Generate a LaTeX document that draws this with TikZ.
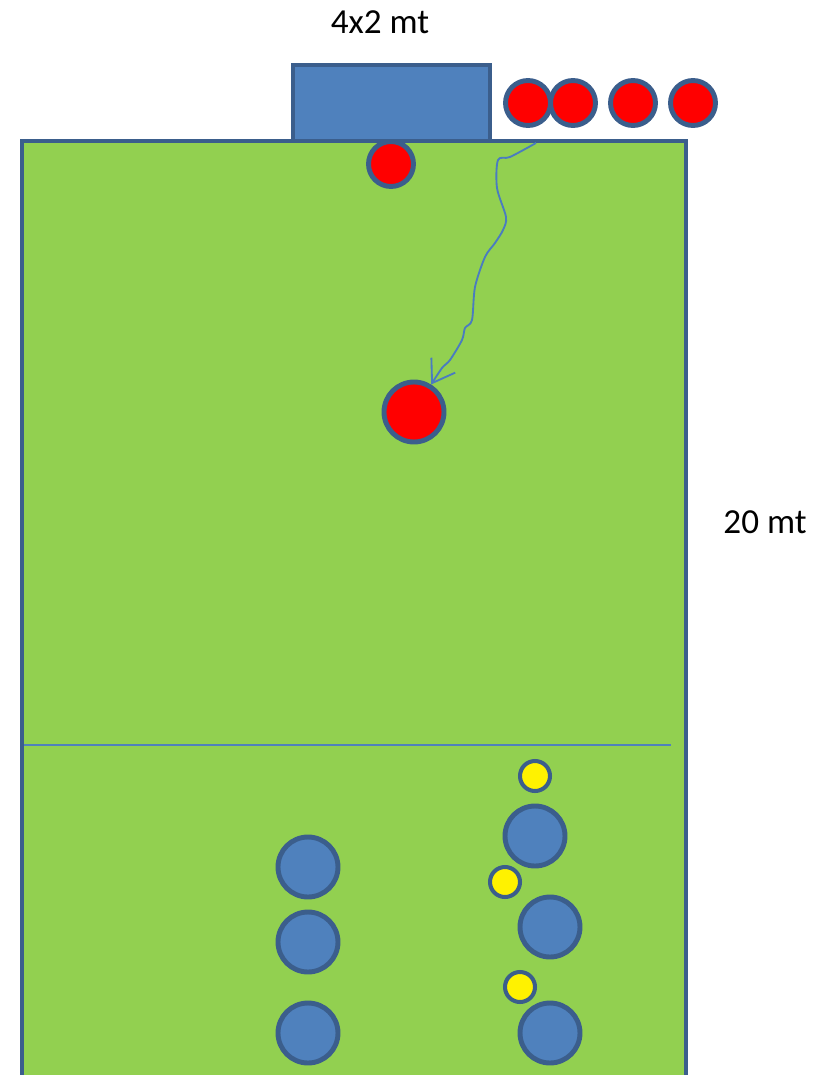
\documentclass[tikz,border=0pt]{standalone}
\usepackage{fontspec}
\setmainfont{Carlito}
\usetikzlibrary{arrows.meta}
\definecolor{pitch}{HTML}{92D050}
\definecolor{rim}{HTML}{3B5E8C}
\definecolor{steel}{HTML}{4F81BD}
\definecolor{chalk}{HTML}{4A7CC0}

\begin{document}
\begin{tikzpicture}[
    x=0.02cm, y=-0.02cm,
    ball/.style={circle, draw=rim, line width=2.8pt, inner sep=0pt},
    redball/.style={ball, fill=red, minimum size=0.9cm},
    bigred/.style={ball, fill=red, minimum size=1.2cm},
    blueball/.style={ball, fill=steel, minimum size=1.2cm},
    cone/.style={ball, fill=yellow, line width=2.3pt, minimum size=0.6cm},
    label/.style={font=\fontsize{20}{24}\selectfont, inner sep=0pt},
    run/.style={chalk, line width=1.05pt, line join=round,
      -{Straight Barb[length=12pt, width=16pt, line width=1.05pt]}}
  ]
    \clip (0,0) rectangle (815,1075);
    % pitch and goal
    \draw[rim, fill=pitch, line width=2.6pt] (22,141) rectangle (686,1100);
    \draw[steel, line width=1.1pt] (24,745) -- (671,745);
    \draw[rim, fill=steel, line width=2.6pt] (293,65) rectangle (490,141);
    \node[label] (goalsize) at (380,22) {4x2 mt};
    \node[label] (length) at (765,522) {20 mt};
    % queue of attackers
    \foreach \x [count=\i] in {528,573,633,693}
      \node[redball] (q\i) at (\x,103) {};
    \node[redball] (keeper) at (391,164) {};
    \node[bigred] (kick) at (414,412) {};
    % run of the ball
    \coordinate (pstart) at (536,143);
    \draw[run] plot[smooth, tension=0.5] coordinates {(pstart) (510,157) (498,160)
      (497,188) (506,217) (503,230) (495,243) (485,257) (475,287) (472,320)
      (465,328) (462,340) (450,360) (442,368) (kick.58)};
    % defenders and cones
    \foreach \y [count=\i] in {867,942,1033}
      \node[blueball] (dl\i) at (308,\y) {};
    \node[blueball] (dr1) at (535,836) {};
    \node[blueball] (dr2) at (550,927) {};
    \node[blueball] (dr3) at (550,1033) {};
    \node[cone] (c1) at (535,776) {};
    \node[cone] (c2) at (505,882) {};
    \node[cone] (c3) at (520,987) {};
  \end{tikzpicture}
\end{document}
